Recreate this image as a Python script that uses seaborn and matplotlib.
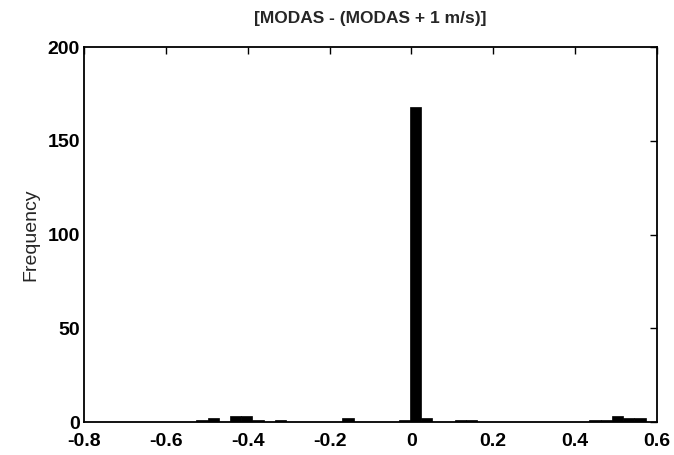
import numpy as np
import pandas as pd
import matplotlib
matplotlib.use("Agg")
import matplotlib.pyplot as plt
import seaborn as sns
from matplotlib.ticker import FuncFormatter

# Histogram bin centers (m/s difference) and counts
bin_centers = [-0.51125, -0.48375, -0.42875, -0.40125, -0.37375, -0.31875,
               -0.15375, -0.01625, 0.01125, 0.03875, 0.12125, 0.14875,
               0.45125, 0.47875, 0.50625, 0.53375, 0.56125]
counts = [1, 2, 3, 3, 1, 1,
          2, 1, 168, 2, 1, 1,
          1, 1, 3, 2, 2]
bin_width = 0.0275
bin_start = -0.8
x_ticks = [-0.8, -0.6, -0.4, -0.2, 0, 0.2, 0.4, 0.6]
y_ticks = [0, 50, 100, 150, 200]
title = "[MODAS - (MODAS + 1 m/s)]"
ylabel = "Frequency"

df = pd.DataFrame({"diff": bin_centers, "count": counts})

sns.set_style("white")
plt.rcParams["font.family"] = ["Liberation Sans", "DejaVu Sans"]

fig = plt.figure(figsize=(6.74, 4.55), dpi=100)
ax = fig.add_axes([0.1246, 0.0725, 0.850, 0.824])

sns.histplot(data=df, x="diff", weights="count", binwidth=bin_width,
             binrange=(bin_start, 0.6), color="black", edgecolor="black",
             linewidth=0.5, alpha=1, ax=ax)

ax.set_xlim(-0.8, 0.6)
ax.set_ylim(0, 200)
ax.set_xticks(x_ticks)
ax.set_yticks(y_ticks)
ax.xaxis.set_major_formatter(FuncFormatter(lambda v, p: "%g" % round(v, 2)))
ax.tick_params(direction="in", length=5, width=1.0, top=True, right=True,
               labelsize=14, colors="black")
ax.tick_params(axis="x", pad=8)
ax.tick_params(axis="y", pad=3)
for lbl in ax.get_xticklabels() + ax.get_yticklabels():
    lbl.set_fontweight("bold")
for s in ax.spines.values():
    s.set_color("black")
    s.set_linewidth(1.3)

ax.set_xlabel("")
ax.set_ylabel(ylabel, fontsize=14, labelpad=6)
ax.set_title(title, fontsize=12.5, fontweight="bold", pad=17)

fig.savefig("out.png", dpi=100, facecolor="white")
